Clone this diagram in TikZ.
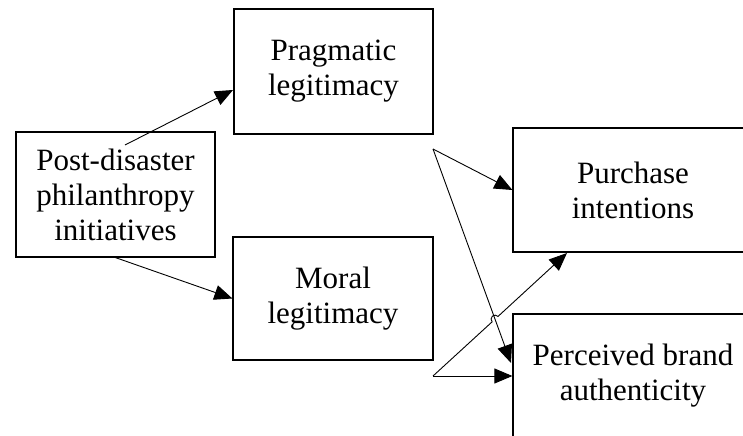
\documentclass[tikz,border=0pt]{standalone}
\usepackage{fontspec}
\setmainfont{Liberation Serif}
\usetikzlibrary{arrows.meta,calc}
\begin{document}
\begin{tikzpicture}[x=1bp,y=-1bp,
    box/.style={draw,line width=1.2bp,align=center,inner sep=0pt,
      font=\fontsize{31bp}{35bp}\selectfont},
    arj/.style={line width=0.9bp,-{Triangle[length=18bp,width=15bp]}}]
\clip (0,0) rectangle (743,436);
\node[box,minimum width=199bp,minimum height=125bp] (post) at (115.5,194.5) {Post-disaster\\philanthropy\\initiatives};
\node[box,minimum width=199bp,minimum height=125bp] (prag) at (333.5,71.5) {Pragmatic\\legitimacy};
\node[box,minimum width=200bp,minimum height=123bp] (moral) at (333,298.5) {Moral\\legitimacy};
\node[box,minimum width=240bp,minimum height=124bp] (purch) at (633,190) {Purchase\\intentions};
\node[box,minimum width=240bp,minimum height=124bp] (perc) at (633,376) {Perceived brand\\authenticity};
% free ends of the connectors
\coordinate (a1) at (125,145);
\coordinate (a2) at (433,149);
\coordinate (a3) at (433,376);
\coordinate (t1) at (233,90);
\coordinate (t2) at (511,363);
\coordinate (t3) at (567,253);
\draw[arj] (a1) -- (t1);
\draw[arj] (post.south) -- (moral.west);
\draw[arj] (a2) -- (purch.west);
\draw[arj] (a2) -- (t2);
\draw[arj] (a3) -- (perc.west);
\coordinate (hx) at (intersection of a2--t2 and a3--t3);
\draw[arj] (a3) -- ($(hx)!4bp!(a3)$) arc[start angle=222.5,end angle=42.5,radius=4bp] -- (t3);
\end{tikzpicture}
\end{document}
